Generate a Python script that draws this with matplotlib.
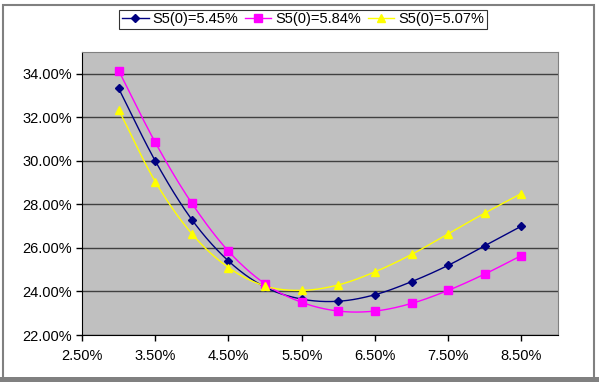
import numpy as np
import matplotlib
matplotlib.use("Agg")
import matplotlib.pyplot as plt
from matplotlib.ticker import FuncFormatter
from matplotlib.lines import Line2D
from matplotlib.patches import Rectangle

plt.rcParams['font.family'] = ['Liberation Sans', 'DejaVu Sans']

strikes = [3.0, 3.5, 4.0, 4.5, 5.0, 5.5, 6.0, 6.5, 7.0, 7.5, 8.0, 8.5]
s545 = [33.33, 30.0, 27.3, 25.4, 24.2, 23.65, 23.55, 23.85, 24.45, 25.2, 26.1, 27.0]
s584 = [34.15, 30.85, 28.05, 25.85, 24.35, 23.5, 23.1, 23.1, 23.45, 24.05, 24.8, 25.65]
s507 = [32.35, 29.05, 26.65, 25.1, 24.25, 24.05, 24.3, 24.9, 25.7, 26.65, 27.6, 28.5]
labels = ["S5(0)=5.45%", "S5(0)=5.84%", "S5(0)=5.07%"]
colors = ["#000080", "#FF00FF", "#FFFF00"]
markers = ["D", "s", "^"]
msizes = [4, 6, 6]


def smooth(x, y, n=20):
    x = np.asarray(x, float); y = np.asarray(y, float)
    px = np.concatenate([[2*x[0]-x[1]], x, [2*x[-1]-x[-2]]])
    py = np.concatenate([[2*y[0]-y[1]], y, [2*y[-1]-y[-2]]])
    xs, ys = [], []
    for i in range(1, len(px)-2):
        t = np.linspace(0, 1, n, endpoint=False)
        p0, p1, p2, p3 = [np.array([px[j], py[j]]) for j in range(i-1, i+3)]
        for tt in t:
            pt = 0.5*((2*p1) + (-p0+p2)*tt + (2*p0-5*p1+4*p2-p3)*tt**2 + (-p0+3*p1-3*p2+p3)*tt**3)
            xs.append(pt[0]); ys.append(pt[1])
    xs.append(x[-1]); ys.append(y[-1])
    return xs, ys


fig = plt.figure(figsize=(5.99, 3.82), dpi=100)
L, R, T, B = 82, 558, 52, 335
ax = fig.add_axes([L/599, 1-B/382, (R-L)/599, (B-T)/382])
ax.set_facecolor("#C0C0C0")

handles = []
for ys, c, m, ms, lab in zip([s545, s584, s507], colors, markers, msizes, labels):
    sx, sy = smooth(strikes, ys)
    ax.plot(sx, sy, color=c, lw=1.0, zorder=3)
    ax.plot(strikes, ys, ls="none", marker=m, ms=ms, color=c, mec=c, zorder=4)
    handles.append(Line2D([0], [0], color=c, lw=1.0, marker=m, ms=ms, mec=c))

ax.set_xlim(2.5, 9.0)
ax.set_ylim(22, 35)
ax.set_xticks(np.arange(2.5, 8.6, 1.0))
ax.set_yticks(np.arange(22, 34.1, 2))
ax.xaxis.set_major_formatter(FuncFormatter(lambda v, p: f"{v:.2f}%"))
ax.yaxis.set_major_formatter(FuncFormatter(lambda v, p: f"{v:.2f}%"))
ax.grid(axis="y", color="#404040", lw=1.0)
ax.set_axisbelow(True)
ax.tick_params(axis="both", labelsize=10.5, length=4, width=1, color="black", direction="out")
ax.tick_params(axis="x", pad=6)
ax.tick_params(axis="y", pad=3)
for s in ["top", "right"]:
    ax.spines[s].set_color("#808080")
for s in ["left", "bottom"]:
    ax.spines[s].set_color("black")

leg = fig.legend(handles, labels, loc="center", bbox_to_anchor=(303/599, 1-19.5/382), ncol=3,
                 fontsize=10.5, frameon=True, fancybox=False, edgecolor="black",
                 handlelength=1.8, handletextpad=0.28, columnspacing=0.45, borderpad=0.2,
                 borderaxespad=0)
leg.get_frame().set_linewidth(0.8)

fig.patches.append(Rectangle((3/599, 2/382), 591/599, 375/382, transform=fig.transFigure,
                             fill=False, edgecolor="#808080", lw=1.5))
fig.patches.append(Rectangle((0, 0), 1, 5/382, transform=fig.transFigure,
                             facecolor="#808080", edgecolor="none"))

fig.savefig("out.png", dpi=100)
